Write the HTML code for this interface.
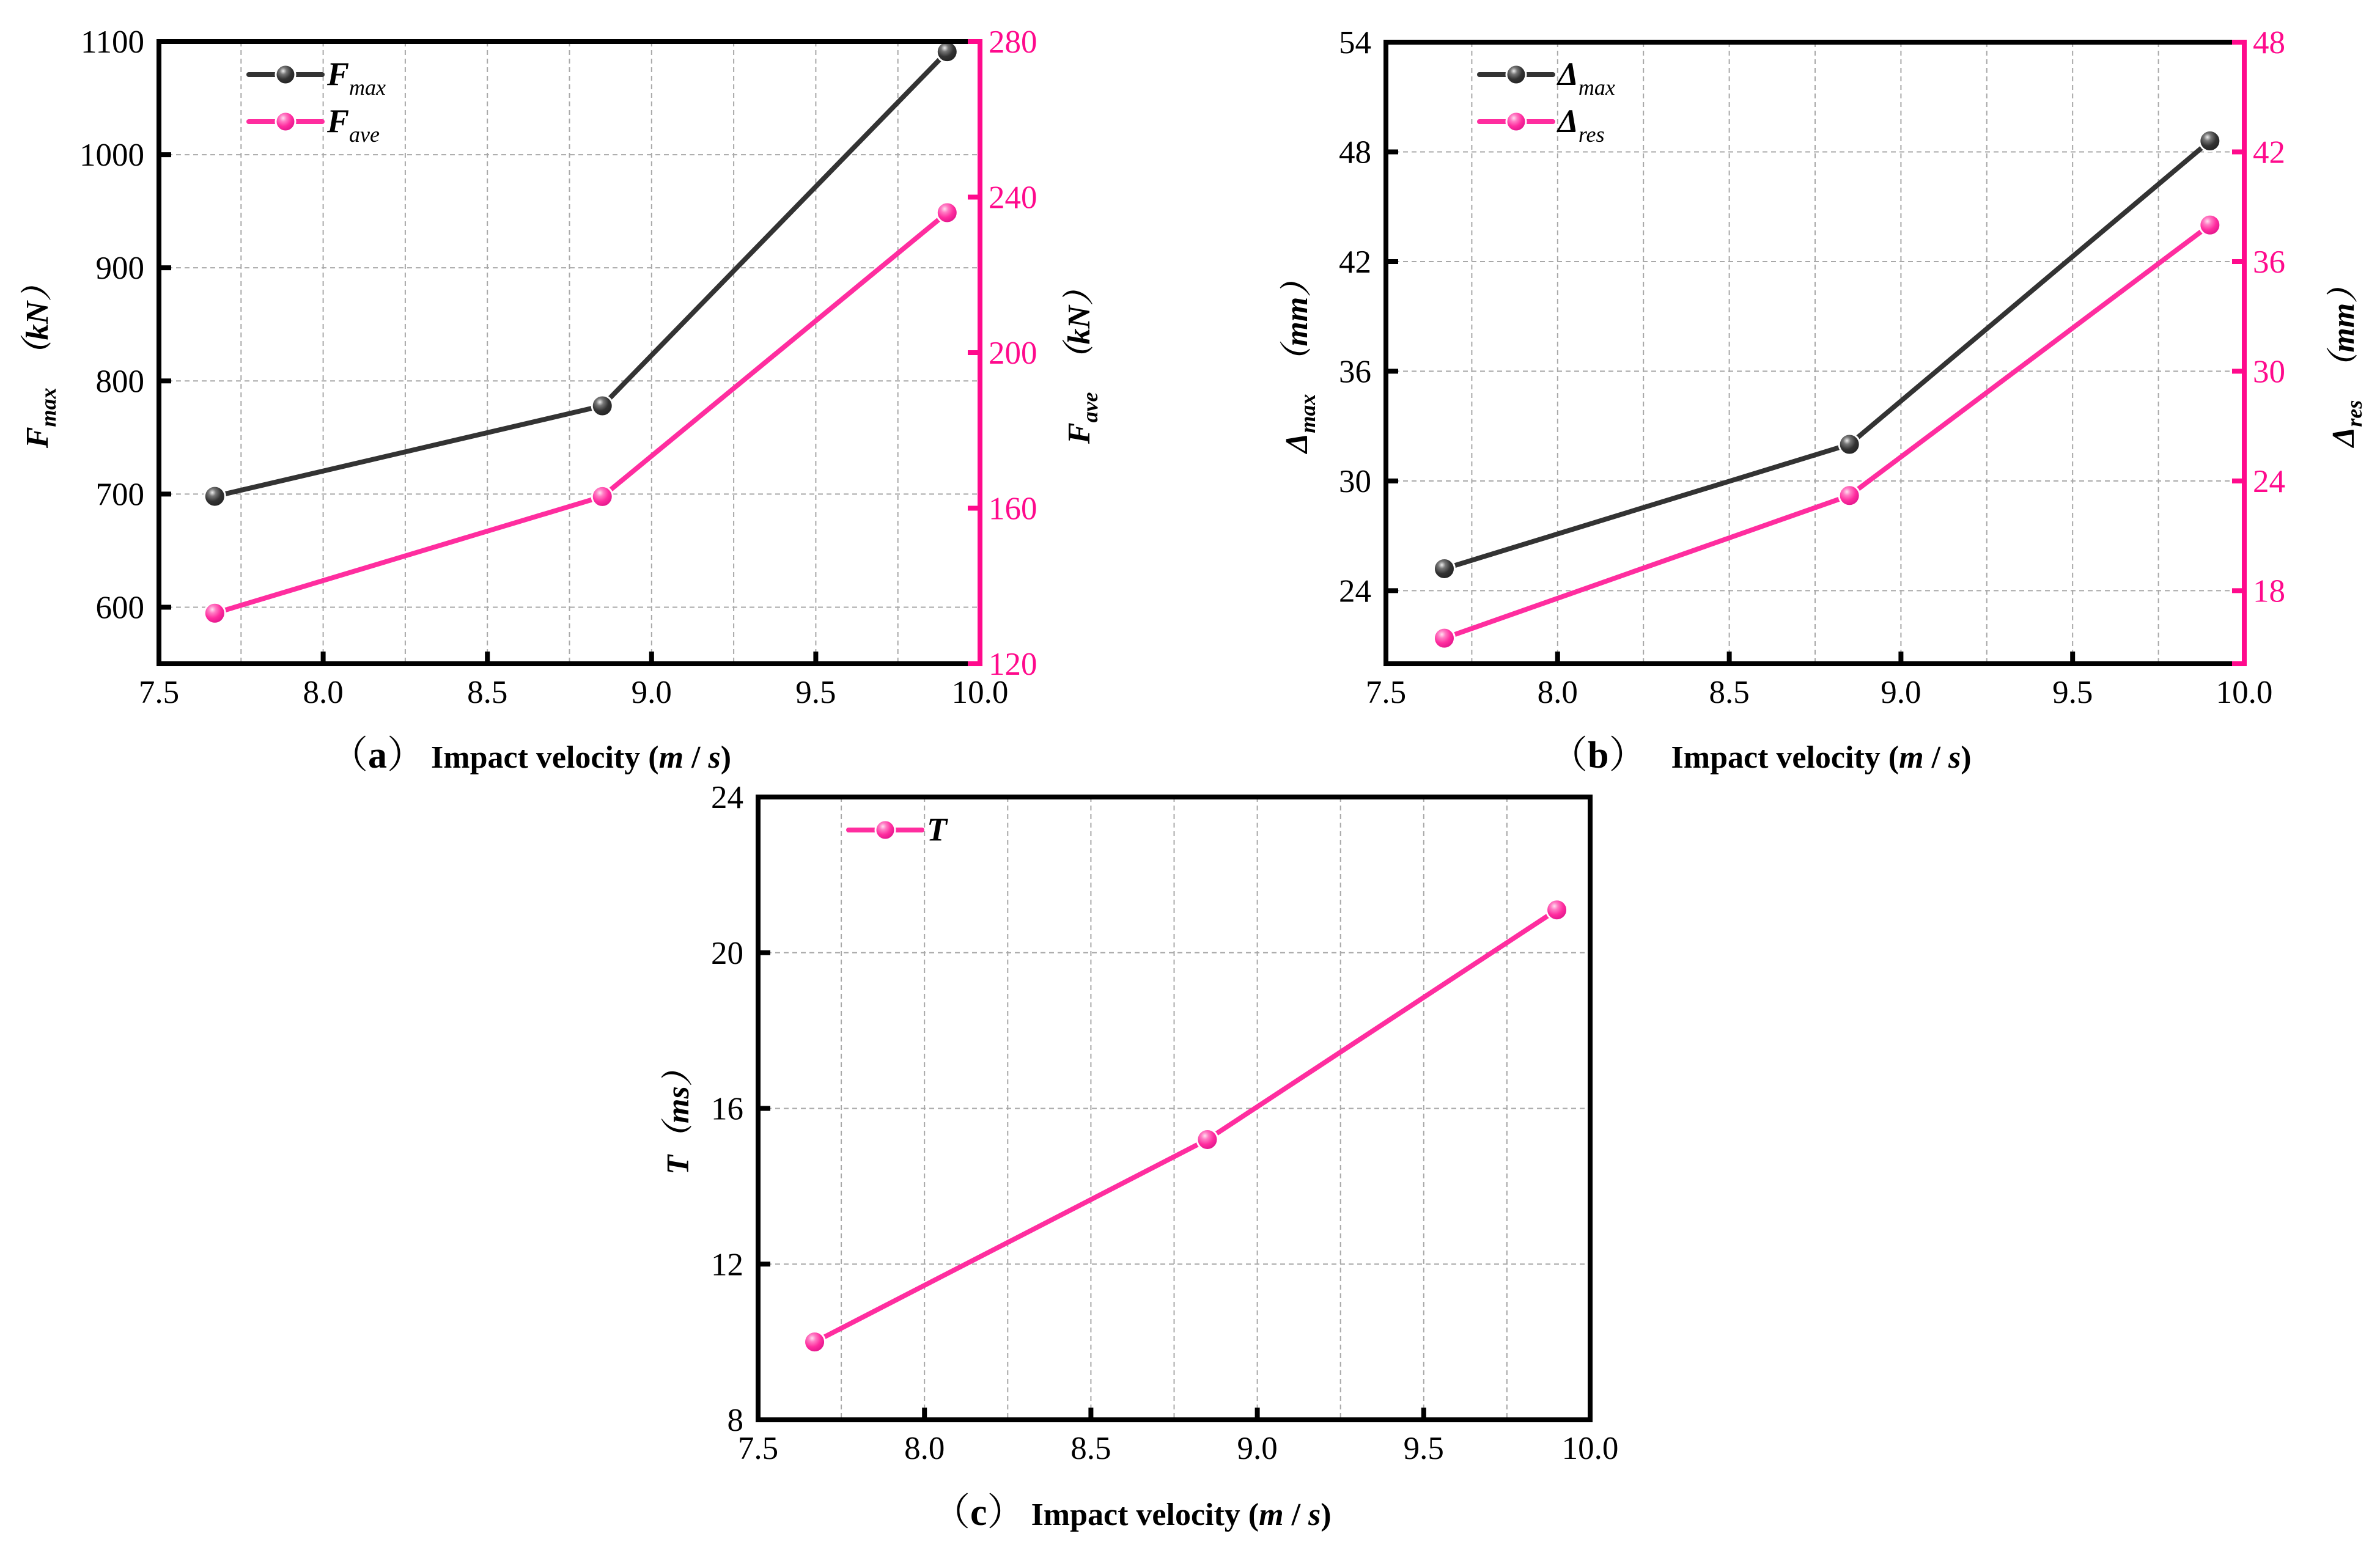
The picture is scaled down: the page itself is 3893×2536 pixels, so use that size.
<!DOCTYPE html>
<html><head><meta charset="utf-8">
<style>
html,body{margin:0;padding:0;background:#fff;}
svg{display:block;}
text{font-family:"Liberation Serif","Noto Serif CJK SC",serif;}
</style></head>
<body>
<svg id="fig" width="3893" height="2536" viewBox="0 0 3893 2536" xmlns="http://www.w3.org/2000/svg">
<defs>
<radialGradient id="gBlack" cx="0.38" cy="0.32" r="0.7">
<stop offset="0" stop-color="#eeeeee"/><stop offset="0.25" stop-color="#777"/><stop offset="0.6" stop-color="#333"/><stop offset="1" stop-color="#222"/>
</radialGradient>
<radialGradient id="gPink" cx="0.38" cy="0.32" r="0.7">
<stop offset="0" stop-color="#ffe0f0"/><stop offset="0.25" stop-color="#ff7cc4"/><stop offset="0.6" stop-color="#ff2d9f"/><stop offset="1" stop-color="#e0148a"/>
</radialGradient>
</defs>
</svg>
<script>
// ---------- data ----------
const velocities = [7.67, 8.85, 9.9];
const fmaxValues = [698, 778, 1091];
const faveValues = [133, 163, 236];
const dmaxValues = [25.2, 32.0, 48.6];
const dresValues = [15.4, 23.2, 38.0];
const tValues = [10.0, 15.2, 21.1];
const xTicks = [7.5, 8.0, 8.5, 9.0, 9.5, 10.0];
const xTickLabels = ["7.5", "8.0", "8.5", "9.0", "9.5", "10.0"];
const aLeftTicks = [600, 700, 800, 900, 1000, 1100];
const aRightTicks = [120, 160, 200, 240, 280];
const bLeftTicks = [24, 30, 36, 42, 48, 54];
const bRightTicks = [18, 24, 30, 36, 42, 48];
const cLeftTicks = [8, 12, 16, 20, 24];

const NS = "http://www.w3.org/2000/svg";
const svg = document.getElementById('fig');
const BLACK = "#333333", PINK = "#ff2d9f", AXPINK = "#ff0a8c";

function el(tag, attrs, parent) {
  const e = document.createElementNS(NS, tag);
  for (const k in attrs) e.setAttribute(k, attrs[k]);
  (parent || svg).appendChild(e);
  return e;
}

function panel(cfg) {
  const g = el('g', {});
  
  
  const L = cfg.L, R = cfg.R, T = cfg.T, B = cfg.B;
  const sx = v => L + (v - 7.5) / 2.5 * (R - L);
  const syL = v => B - (v - cfg.lmin) / (cfg.lmax - cfg.lmin) * (B - T);
  const syR = cfg.rmin !== undefined ? (v => B - (v - cfg.rmin) / (cfg.rmax - cfg.rmin) * (B - T)) : null;

  const grid = el('g', {stroke: '#a8a8a8', 'stroke-width': 2, 'stroke-dasharray': '8,6', fill: 'none'}, g);
  
  
  for (let v = 7.75; v < 10; v += 0.25) {
    const x = sx(v);
    el('line', {x1: x, y1: T, x2: x, y2: B}, grid);
  }
  cfg.lticks.forEach(v => {
    const y = syL(v);
    if (y > T + 5 && y < B - 5) el('line', {x1: L, y1: y, x2: R, y2: y}, grid);
  });

  cfg.series.forEach(s => {
    const sy = s.axis === 'r' ? syR : syL;
    const pts = velocities.map((v, i) => sx(v) + ',' + sy(s.vals[i])).join(' ');
    const pl = el('polyline', {points: pts, fill: 'none', stroke: s.color, 'stroke-width': 8, 'stroke-linejoin': 'round'}, g);
    
    
    velocities.forEach((v, i) => {
      const c = el('circle', {cx: sx(v), cy: sy(s.vals[i]), r: 17, fill: s.grad, stroke: '#fff', 'stroke-width': 3}, g);
      
      
    });
  });

  const ax = el('g', {}, g);
  
  
  el('line', {x1: L, y1: T, x2: R, y2: T, stroke: '#000', 'stroke-width': 8}, ax);
  el('line', {x1: L, y1: T - 4, x2: L, y2: B + 4, stroke: '#000', 'stroke-width': 8}, ax);
  el('line', {x1: L - 4, y1: B, x2: R, y2: B, stroke: '#000', 'stroke-width': 8}, ax);
  el('line', {x1: R, y1: T - 4, x2: R, y2: B + 4, stroke: syR ? AXPINK : '#000', 'stroke-width': 8}, ax);
  if (syR) el('line', {x1: R - 20, y1: B, x2: R + 4, y2: B, stroke: AXPINK, 'stroke-width': 8}, ax);

  xTicks.forEach((v, i) => {
    const x = sx(v);
    if (i > 0 && i < xTicks.length - 1) el('line', {x1: x, y1: B, x2: x, y2: B - 20, stroke: '#000', 'stroke-width': 8}, ax);
    const t = el('text', {x: x, y: B + 64, 'font-size': 53, 'text-anchor': 'middle', fill: '#000'}, g);
    t.textContent = xTickLabels[i];
    
    
  });
  cfg.lticks.forEach(v => {
    const y = syL(v);
    el('line', {x1: L, y1: y, x2: L + 20, y2: y, stroke: '#000', 'stroke-width': 8}, ax);
    const t = el('text', {x: L - 24, y: y + 18, 'font-size': 53, 'text-anchor': 'end', fill: '#000'}, g);
    t.textContent = String(v);
    
    
  });
  if (syR) cfg.rticks.forEach(v => {
    const y = syR(v);
    el('line', {x1: R, y1: y, x2: R - 20, y2: y, stroke: AXPINK, 'stroke-width': 8}, ax);
    const t = el('text', {x: R + 14, y: y + 18, 'font-size': 53, 'text-anchor': 'start', fill: AXPINK}, g);
    t.textContent = String(v);
    
    
  });

  cfg.series.forEach((s, i) => {
    const y = cfg.legY + i * 77;
    const lg = el('g', {}, g);
    
    
    const lx = cfg.legX;
    el('line', {x1: lx, y1: y, x2: lx + 120, y2: y, stroke: s.color, 'stroke-width': 8, 'stroke-linecap': 'round'}, lg);
    el('circle', {cx: lx + 60, cy: y, r: 16, fill: s.grad, stroke: '#fff', 'stroke-width': 3}, lg);
    const t = el('text', {x: lx + 128, y: y + 17, 'font-size': 54, 'font-style': 'italic', 'font-weight': 'bold', fill: '#000'}, lg);
    t.innerHTML = s.sym + (s.sub ? '<tspan font-size="36" font-weight="normal" dy="16">' + s.sub + '</tspan>' : '');
  });

  function ytitle(x, yc, sym, sub, unit, name) {
    const t = el('text', {x: 0, y: 0, 'font-size': 52, 'font-style': 'italic', 'font-weight': 'bold', 'text-anchor': 'middle', fill: '#000', transform: 'translate(' + x + ',' + yc + ') rotate(-90)'}, g);
    t.innerHTML = sym + (sub ? '<tspan font-size="36" dy="13">' + sub + '</tspan><tspan dy="-13">\u3000（' + unit + '）</tspan>' : '<tspan>（' + unit + '）</tspan>');
    
    
  }
  ytitle(cfg.ylX, (T + B) / 2 + 10, cfg.yl[0], cfg.yl[1], cfg.yl[2], 'left-y-axis-title');
  if (cfg.yr) ytitle(cfg.yrX, (T + B) / 2 + 10, cfg.yr[0], cfg.yr[1], cfg.yr[2], 'right-y-axis-title');

  const cap = el('text', {x: cfg.capX, y: cfg.capY, 'font-size': 52, 'font-weight': 'bold', fill: '#000'}, g);
  cap.innerHTML = '<tspan font-size="62" font-weight="normal">（</tspan><tspan font-size="62">' + cfg.letter + '</tspan><tspan font-size="62" font-weight="normal">）</tspan><tspan dx="' + cfg.capGap + '">Impact velocity (<tspan font-style="italic">m</tspan> / <tspan font-style="italic">s</tspan>)</tspan>';
  
  
}

panel({name: 'panel-a-force', L: 260, R: 1603, T: 68, B: 1086, lmin: 550, lmax: 1100, rmin: 120, rmax: 280,
  lticks: aLeftTicks, rticks: aRightTicks, legX: 407, legY: 122,
  series: [{key: 'fmax', vals: fmaxValues, axis: 'l', color: BLACK, grad: 'url(#gBlack)', sym: 'F', sub: 'max'},
           {key: 'fave', vals: faveValues, axis: 'r', color: PINK, grad: 'url(#gPink)', sym: 'F', sub: 'ave'}],
  ylX: 78, yl: ['F', 'max', 'kN'], yrX: 1782, yr: ['F', 'ave', 'kN'], capX: 540, capY: 1256, letter: 'a', capGap: 10});

panel({name: 'panel-b-displacement', L: 2267, R: 3671, T: 69, B: 1086, lmin: 20, lmax: 54, rmin: 14, rmax: 48,
  lticks: bLeftTicks, rticks: bRightTicks, legX: 2420, legY: 122,
  series: [{key: 'dmax', vals: dmaxValues, axis: 'l', color: BLACK, grad: 'url(#gBlack)', sym: 'Δ', sub: 'max'},
           {key: 'dres', vals: dresValues, axis: 'r', color: PINK, grad: 'url(#gPink)', sym: 'Δ', sub: 'res'}],
  ylX: 2138, yl: ['Δ', 'max', 'mm'], yrX: 3850, yr: ['Δ', 'res', 'mm'], capX: 2535, capY: 1256, letter: 'b', capGap: 40});

panel({name: 'panel-c-time', L: 1240, R: 2601, T: 1304, B: 2323, lmin: 8, lmax: 24,
  lticks: cLeftTicks, legX: 1388, legY: 1358,
  series: [{key: 't', vals: tValues, axis: 'l', color: PINK, grad: 'url(#gPink)', sym: 'T', sub: ''}],
  ylX: 1126, yl: ['T', '', 'ms'], capX: 1525, capY: 2495, letter: 'c', capGap: 10});
</script>
</body></html>
